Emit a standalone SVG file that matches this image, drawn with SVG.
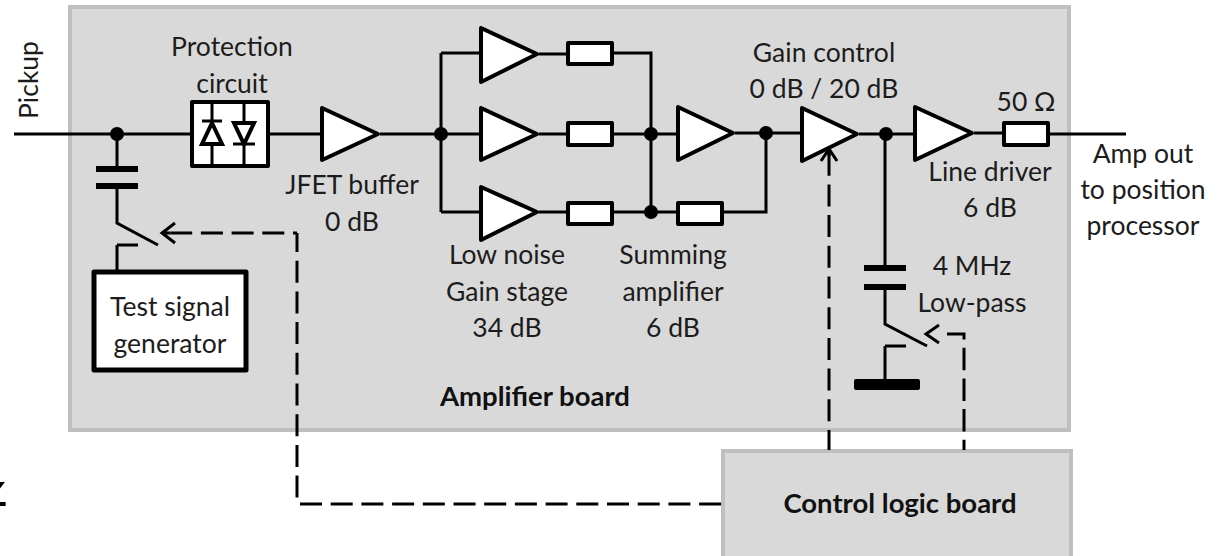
<svg xmlns="http://www.w3.org/2000/svg" width="1223" height="556" viewBox="0 0 1223 556">
<style>
text{font-family:"Lato","Carlito","Open Sans",sans-serif;font-size:26.5px;fill:#1c1c1c;text-anchor:middle}
.b{font-weight:700;font-size:27.5px;fill:#111}
.board{fill:#d9d9d9;stroke:#bfbfbf;stroke-width:4}
.w{fill:#fff;stroke:#000;stroke-width:4;stroke-linejoin:round}
.l{fill:none;stroke:#000;stroke-width:3}
.t{fill:none;stroke:#000;stroke-width:6}
.d{fill:none;stroke:#000;stroke-width:3;stroke-dasharray:22 8.7}
.a{fill:none;stroke:#000;stroke-width:3}
.dot{fill:#000}
</style>
<defs><clipPath id="zc"><rect x="0" y="482" width="12" height="30"/></clipPath></defs>
<rect width="1223" height="556" fill="#fff"/>
<g id="amplifier-board"><rect class="board" x="70" y="7" width="999" height="423"/><text class="b" x="535" y="406">Amplifier board</text></g>
<g id="control-logic-board"><rect class="board" x="723" y="451" width="348" height="110"/><text class="b" x="900" y="513">Control logic board</text></g>
<g id="protection-circuit"><rect class="w" x="192" y="102" width="76" height="64"/>
<path class="l" d="M212 102V121M212 144V166M244 102V123M244 144V166M202 121H222M233 144H255"/>
<path class="l" style="stroke-width:4" d="M212 123L222 144H202ZM234 123H254L244 144Z"/>
<text x="232" y="56">Protection</text><text x="232" y="93">circuit</text></g>
<g id="jfet-buffer"><path class="w" d="M322 108V160L378 134Z"/><text x="352" y="194">JFET buffer</text><text x="352" y="231">0 dB</text></g>
<g id="gain-stage-1"><path class="w" d="M481 28V82L537 54Z"/><rect class="w" x="568" y="43" width="44" height="21"/></g>
<g id="gain-stage-2"><path class="w" d="M481 108V160L537 134Z"/><rect class="w" x="568" y="123" width="44" height="22"/></g>
<g id="gain-stage-3"><path class="w" d="M481 187V240L537 212Z"/><rect class="w" x="568" y="203" width="44" height="21"/><text x="507" y="264">Low noise</text><text x="507" y="301">Gain stage</text><text x="507" y="337">34 dB</text></g>
<g id="summing-amplifier"><path class="w" d="M678 107V160L733 133Z"/><rect class="w" x="678" y="203" width="44" height="21"/><text x="673" y="264">Summing</text><text x="673" y="301">amplifier</text><text x="673" y="337">6 dB</text></g>
<g id="gain-control"><path class="w" d="M802 108V161L857 134Z"/><text x="824" y="62">Gain control</text><text x="824" y="98">0 dB / 20 dB</text></g>
<g id="line-driver"><path class="w" d="M915 107V160L972 133Z"/><text x="990" y="181">Line driver</text><text x="990" y="217">6 dB</text></g>
<g id="output-resistor"><rect class="w" x="1004" y="123" width="44" height="22"/><text x="1026" y="111">50 Ω</text></g>
<g id="test-signal-generator"><rect class="w" x="94" y="272" width="152" height="98" style="stroke-width:5"/><text x="170" y="316">Test signal</text><text x="170" y="353">generator</text></g>
<g id="low-pass"><rect x="854" y="379" width="66" height="11" rx="2" fill="#000"/><text x="972" y="275">4 MHz</text><text x="972" y="312">Low-pass</text></g>
<g id="output-label"><text x="1143" y="163">Amp out</text><text x="1143" y="199">to position</text><text x="1143" y="235">processor</text></g>
<g id="pickup"><text transform="translate(38 80) rotate(-90)">Pickup</text></g>
<g id="connectors">
<path class="l" d="M14 134H190M270 134H320M380 134H479M441 53V212M441 53H479M441 212H479M539 54H566M539 134H566M539 212H566M614 53H651V212M614 134H676M614 212H676M724 212H766V133M735 133H800M859 134H913M974 133H1002M1050 134H1126M117 134V169M117 187V223L158 245M117 245H138M117 245V270M885 134V268M885 288V324L927 346M885 346H906M885 346V380"/>
<path class="t" d="M96 169H138M96 186H138M864 268H906M864 287H906"/>
<path class="d" d="M300 504H722"/>
<path class="d" style="stroke-dashoffset:3" d="M297 233V504"/>
<path class="d" style="stroke-dashoffset:18" d="M297 233H169"/>
<path class="a" d="M175 223L162 233L175 243M162 233H170"/>
<path class="d" style="stroke-dashoffset:2" d="M829 450V152"/>
<path class="a" d="M821 161L829 149L837 161M829 149V156"/>
<path class="d" style="stroke-dasharray:22.5 8.2" d="M947 334H964V450"/>
<path class="a" d="M939 325L926 334L939 343"/>
<circle class="dot" cx="117" cy="134" r="7"/><circle class="dot" cx="441" cy="134" r="7"/><circle class="dot" cx="651" cy="134" r="7"/><circle class="dot" cx="651" cy="212" r="7"/><circle class="dot" cx="766" cy="133" r="7"/><circle class="dot" cx="886" cy="134" r="7"/>
</g>
<text x="8" y="506" clip-path="url(#zc)" style="font-size:57px;text-anchor:end;fill:#000">z</text>
</svg>
